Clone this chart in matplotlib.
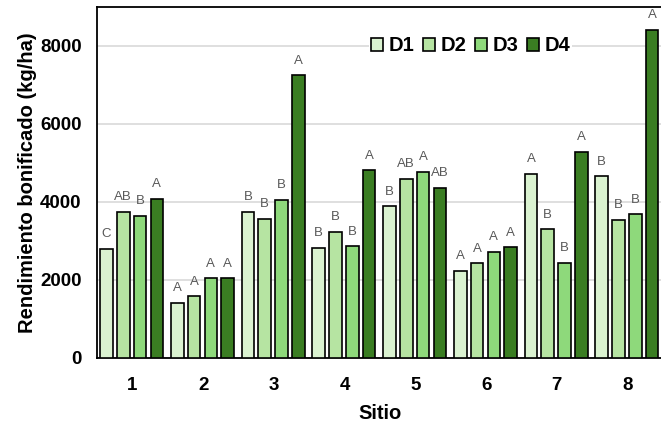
import numpy as np
import matplotlib.pyplot as plt
from matplotlib.patches import Patch

plt.rcParams['font.family'] = ['Liberation Sans', 'DejaVu Sans']

sitios = ['1', '2', '3', '4', '5', '6', '7', '8']
series = ['D1', 'D2', 'D3', 'D4']
d1 = [2800, 1420, 3750, 2820, 3890, 2240, 4730, 4660]
d2 = [3750, 1580, 3570, 3230, 4600, 2430, 3300, 3550]
d3 = [3650, 2040, 4050, 2860, 4770, 2725, 2435, 3685]
d4 = [4080, 2040, 7250, 4815, 4360, 2835, 5290, 8415]
let1 = ['C', 'A', 'B', 'B', 'B', 'A', 'A', 'B']
let2 = ['AB', 'A', 'B', 'B', 'AB', 'A', 'B', 'B']
let3 = ['B', 'A', 'B', 'B', 'A', 'A', 'B', 'B']
let4 = ['A', 'A', 'A', 'A', 'AB', 'A', 'A', 'A']

colors = ['#daf2d0', '#b6e4a2', '#8ed97b', '#3a7d22']
vals = [d1, d2, d3, d4]
lets = [let1, let2, let3, let4]

fig = plt.figure(figsize=(6.61, 4.22), dpi=100)
ax = fig.add_axes([97/661, 64/422, 566/661, 351/422])

x = np.arange(len(sitios))
pitch = 0.237
w = 0.178
for i in range(4):
	xs = x + (i - 1.5)*pitch - 0.01
	ax.bar(xs, vals[i], w, color=colors[i], edgecolor='black', linewidth=1.2, zorder=3)
	for xi, v, t in zip(xs, vals[i], lets[i]):
		ax.text(xi, v + 220, t, ha='center', va='bottom', fontsize=9.5, color='#595959')

ax.set_xlim(-0.5, 7.5)
ax.set_ylim(0, 9000)
ax.set_yticks([0, 2000, 4000, 6000, 8000])
ax.set_xticks(x)
ax.set_xticklabels(sitios)
ax.tick_params(length=0, labelsize=13.5)
for lab in ax.get_xticklabels() + ax.get_yticklabels():
	lab.set_fontweight('bold')
ax.tick_params(axis='y', pad=11)
ax.tick_params(axis='x', pad=14)
ax.grid(axis='y', color='#d9d9d9', linewidth=1.2, zorder=0)
for s in ax.spines.values():
	s.set_linewidth(1.3)
ax.spines['right'].set_visible(False)

ax.set_ylabel('Rendimiento bonificado (kg/ha)', fontsize=14.5, fontweight='bold', labelpad=2)
ax.set_xlabel('Sitio', fontsize=14.5, fontweight='bold', labelpad=7)

handles = [Patch(facecolor=c, edgecolor='black', linewidth=1.2) for c in colors]
leg = ax.legend(handles, series, loc='center', bbox_to_anchor=(0.66, 0.889), ncol=4,
	frameon=True, fancybox=False, edgecolor='none', framealpha=1,
	prop={'weight': 'bold', 'size': 14.5}, handlelength=0.6, handleheight=0.6,
	handletextpad=0.25, columnspacing=0.45, borderpad=0.1)
leg.set_zorder(5)

fig.savefig('out.png', dpi=100)
